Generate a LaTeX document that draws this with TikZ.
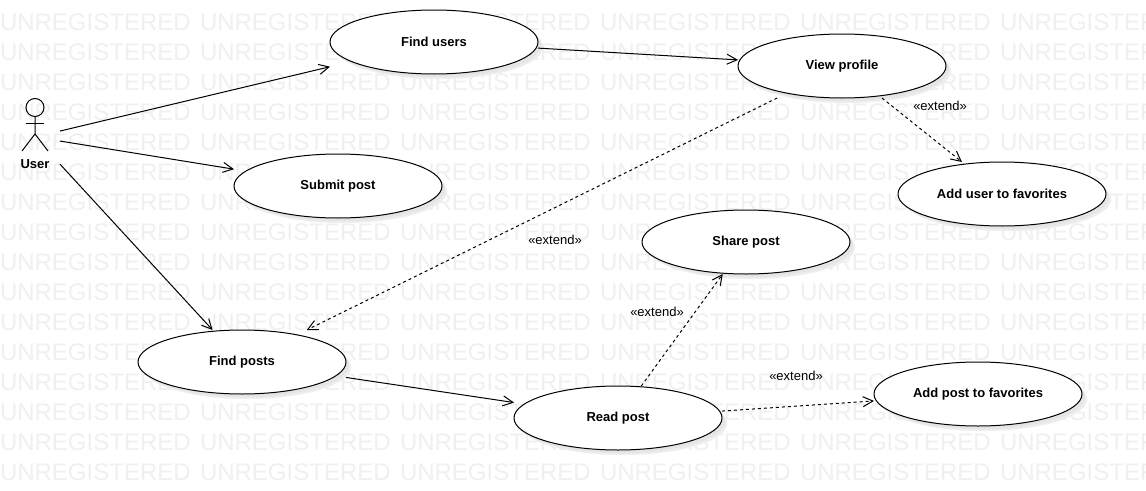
\documentclass[tikz,border=0pt]{standalone}
\usepackage{fontspec}
\setmainfont{Liberation Sans}
\usetikzlibrary{shapes.geometric,arrows.meta,shadows}
\tikzset{
  x=1pt,y=-1pt,
  every node/.style={inner sep=0pt,outer sep=0pt},
  watermark/.style={anchor=base west,text=black!6,font=\fontsize{24}{24}\selectfont},
  usecase/.style={shape=ellipse,draw=black,fill=white,line width=1pt,minimum width=208pt,minimum height=64pt,
    font=\fontsize{13}{15}\selectfont\bfseries,
    general shadow={shadow xshift=5pt,shadow yshift=-5pt,fill=black!7,draw=none},
    general shadow={shadow xshift=3pt,shadow yshift=-3pt,fill=black!10,draw=none}},
  ucbox/.style={shape=rectangle,minimum width=208pt,minimum height=64pt},
  actorbox/.style={shape=rectangle,minimum width=50pt,minimum height=80pt},
  actorline/.style={line width=1pt,draw=black},
  assoc/.style={line width=1pt,draw=black,-{Straight Barb[length=10pt,width=10pt,line width=1pt]}},
  extendrel/.style={assoc,dash pattern=on 3pt off 3pt},
  extlabel/.style={font=\fontsize{13}{15}\selectfont},
  actorlabel/.style={font=\fontsize{13}{15}\selectfont\bfseries}
}
\begin{document}
\begin{tikzpicture}
\useasboundingbox (0,0) rectangle (1146,490);
\fill[white] (0,0) rectangle (1146,490);
\begin{scope}
\clip (0,0) rectangle (1146,490);
\foreach \r in {30,60,...,480}{
  \foreach \c in {0,200,...,1000}{
    \node[watermark] at (\c,\r) {UNREGISTERED};
  }
}
\end{scope}
% use cases
\node[usecase] (fue) at (434,42) {Find users};
\node[usecase] (vpe) at (842,66) {View profile};
\node[usecase] (aue) at (1002,194) {Add user to favorites};
\node[usecase] (spe) at (338,186) {Submit post};
\node[usecase] (she) at (746,242) {Share post};
\node[usecase] (fpe) at (242,362) {Find posts};
\node[usecase] (rpe) at (618,418) {Read post};
\node[usecase] (ape) at (978,394) {Add post to favorites};
% connection boxes
\node[ucbox] (fu) at (fue) {};
\node[ucbox] (vp) at (vpe) {};
\node[ucbox] (au) at (aue) {};
\node[ucbox] (sp) at (spe) {};
\node[ucbox] (sh) at (she) {};
\node[ucbox] (fp) at (fpe) {};
\node[ucbox] (rp) at (rpe) {};
\node[ucbox] (ap) at (ape) {};
% actor
\node[actorbox] (user) at (35,137) {};
\draw[actorline] (35,107.5) circle[radius=9pt];
\draw[actorline] (35,116.5) -- (35,134) -- (22,151);
\draw[actorline] (35,134) -- (48,151);
\draw[actorline] (26,123) -- (44,123);
\node[actorlabel] (userlabel) at (35,164.5) {User};
% connectors
\draw[assoc] (user) -- (fu);
\draw[assoc] (user) -- (sp);
\draw[assoc] (user) -- (fp);
\draw[assoc] (fu) -- (vp);
\draw[assoc] (fp) -- (rp);
\draw[extendrel] (vp) -- (fp);
\draw[extendrel] (vp) -- (au);
\draw[extendrel] (rp) -- (sh);
\draw[extendrel] (rp) -- (ap);
% labels
\node[extlabel] (l1) at (940,105.5) {«extend»};
\node[extlabel] (l2) at (555,239.5) {«extend»};
\node[extlabel] (l3) at (657,311.5) {«extend»};
\node[extlabel] (l4) at (796,375.5) {«extend»};
\end{tikzpicture}
\end{document}
